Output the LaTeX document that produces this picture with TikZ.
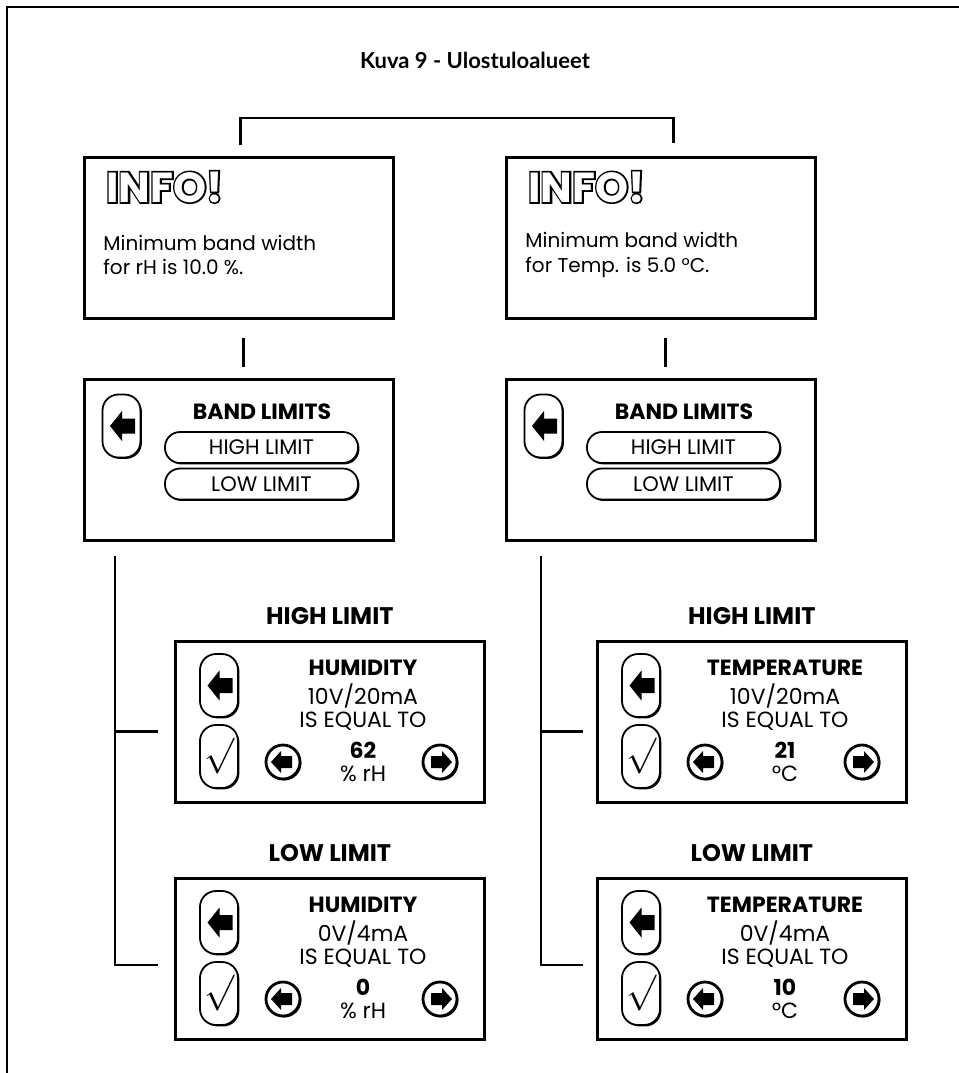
\documentclass[tikz,border=0pt]{standalone}
\usepackage{fontspec}
\setmainfont{Poppins}
\newfontfamily\captionfont{Lato}
\usepackage{tikz}
\usetikzlibrary{calc,shadows}
\tikzset{
  frameLine/.style={line width=1.4pt},
  linkLine/.style={line width=1.25pt},
  panelBox/.style={draw, line width=1.35pt, minimum width=154.5pt,
                   minimum height=80.5pt, inner sep=0pt},
  keyShadow/.style={drop shadow={shadow xshift=0.7pt, shadow yshift=-0.7pt,
                    opacity=1, fill=black}},
  softKey/.style={draw, line width=0.9pt, fill=white, rounded corners=8pt,
                  minimum width=19pt, minimum height=31.5pt, inner sep=0pt,
                  keyShadow},
  roundKey/.style={draw, circle, line width=1.4pt, fill=white,
                   minimum size=17pt, inner sep=0pt, keyShadow},
  pillKey/.style={draw, line width=0.9pt, fill=white, rounded corners=7.5pt,
                  minimum width=96.5pt, minimum height=15.5pt, inner sep=0pt,
                  keyShadow, font=\fontsize{10.5}{12}\selectfont},
  headText/.style={inner sep=0pt, font=\bfseries\fontsize{11}{13}\selectfont},
  bodyText/.style={inner sep=0pt, font=\fontsize{11}{13}\selectfont},
  labelText/.style={inner sep=0pt, font=\bfseries\fontsize{12}{14}\selectfont},
  infoText/.style={inner sep=0pt, align=left, font=\fontsize{10}{12.3}\selectfont},
  backArrow/.pic={\fill (-11.5,0) -- (0.5,15) -- (0.5,7.5) -- (13.5,7.5)
                  -- (13.5,-7.5) -- (0.5,-7.5) -- (0.5,-15) -- cycle;},
  roundArrow/.pic={\fill (-12,0) -- (-2,11) -- (-2,6) -- (9,6)
                   -- (9,-6) -- (-2,-6) -- (-2,-11) -- cycle;}
}
\newcommand{\infoMark}{{\fontsize{21}{21}\selectfont\bfseries
  \rlap{\addfontfeature{FakeBold=8}INFO!}{\color{white}INFO!}}}
\newcommand{\okMark}{\scalebox{1.8}{$\surd$}}
% name, x, y, label, quantity, signal, value, unit
\newcommand{\limitPanel}[8]{
  \node[panelBox, anchor=north west] (#1) at (#2,#3) {};
  \node[labelText] (#1label) at ($(#1.north)+(0,24)$) {#4};
  \node[softKey] (#1back) at ($(#1.north west)+(45,-45.5)$) {};
  \pic at (#1back) {backArrow};
  \node[softKey] (#1ok) at ($(#1.north west)+(45,-116.5)$) {\okMark};
  \node[headText] (#1qty) at ($(#1.north west)+(189,-28)$) {#5};
  \node[bodyText] (#1sig) at ($(#1.north west)+(189,-56)$) {#6};
  \node[bodyText] (#1eq) at ($(#1.north west)+(189,-81)$) {IS EQUAL TO};
  \node[headText] (#1val) at ($(#1.north west)+(189,-110)$) {#7};
  \node[bodyText] (#1unit) at ($(#1.north west)+(189,-134)$) {#8};
  \node[roundKey] (#1dn) at ($(#1.north west)+(109,-122)$) {};
  \node[roundKey] (#1up) at ($(#1.north west)+(266,-122)$) {};
  \pic at (#1dn) {roundArrow};
  \pic[xscale=-1] at (#1up) {roundArrow};
}

\begin{document}
\begin{tikzpicture}[x=0.5pt,y=0.5pt]
  \useasboundingbox (0,0) rectangle (959,-1073);
  \draw[frameLine] (959,-7) -- (7,-7) -- (7,-1073);

  \node[font=\captionfont\bfseries\fontsize{11}{13}\selectfont] (title)
        at (475,-60) {Kuva 9 - Ulostuloalueet};

  % info screens
  \node[panelBox, anchor=north west] (infoL) at (83,-156) {};
  \node[panelBox, anchor=north west] (infoR) at (505,-156) {};
  \node[inner sep=0pt, anchor=west] (infoLmark) at ($(infoL.north west)+(23,-31)$) {\infoMark};
  \node[inner sep=0pt, anchor=west] (infoRmark) at ($(infoR.north west)+(23,-31)$) {\infoMark};
  \node[infoText, anchor=west] (infoLtext) at ($(infoL.north west)+(20,-99)$)
        {Minimum band width\\for rH is 10.0 \%.};
  \node[infoText, anchor=west] (infoRtext) at ($(infoR.north west)+(20,-99)$)
        {Minimum band width\\for Temp. is 5.0 °C.};

  % band limit screens
  \node[panelBox, anchor=north west] (bandL) at (83,-378) {};
  \node[softKey] (bandLback) at ($(bandL.north west)+(38.5,-48)$) {};
  \pic at (bandLback) {backArrow};
  \node[headText] (bandLtitle) at ($(bandL.north west)+(179,-34)$) {BAND LIMITS};
  \node[pillKey] (bandLhigh) at ($(bandL.north west)+(178.5,-69.5)$) {HIGH LIMIT};
  \node[pillKey] (bandLlow) at ($(bandL.north west)+(178.5,-106)$) {LOW LIMIT};

  \node[panelBox, anchor=north west] (bandR) at (505,-378) {};
  \node[softKey] (bandRback) at ($(bandR.north west)+(38.5,-48)$) {};
  \pic at (bandRback) {backArrow};
  \node[headText] (bandRtitle) at ($(bandR.north west)+(179,-34)$) {BAND LIMITS};
  \node[pillKey] (bandRhigh) at ($(bandR.north west)+(178.5,-69.5)$) {HIGH LIMIT};
  \node[pillKey] (bandRlow) at ($(bandR.north west)+(178.5,-106)$) {LOW LIMIT};

  % limit screens
  \limitPanel{hiRH}{174}{-640}{HIGH LIMIT}{HUMIDITY}{10V/20mA}{62}{\% rH}
  \limitPanel{loRH}{174}{-877}{LOW LIMIT}{HUMIDITY}{0V/4mA}{0}{\% rH}
  \limitPanel{hiT}{596}{-640}{HIGH LIMIT}{TEMPERATURE}{10V/20mA}{21}{°C}
  \limitPanel{loT}{596}{-877}{LOW LIMIT}{TEMPERATURE}{0V/4mA}{10}{°C}

  % connectors
  \draw[linkLine] ($(infoL.north)+(1.5,11)$) -- ++(0,27) -| ($(infoR.north)+(12.5,13)$);
  \draw[linkLine] ($(infoL.south)+(4.5,-18)$) -- ($(bandL.north)+(4.5,11)$);
  \draw[linkLine] ($(infoR.south)+(4.5,-18)$) -- ($(bandR.north)+(4.5,11)$);
  \draw[linkLine] ($(bandL.south west)+(32,-14)$) |- ($(loRH.west)+(-16,-6)$);
  \draw[linkLine] ($(hiRH.west)+(-59,-9.5)$) -- ($(hiRH.west)+(-16,-9.5)$);
  \draw[linkLine] ($(bandR.south west)+(36,-14)$) |- ($(loT.west)+(-13,-6)$);
  \draw[linkLine] ($(hiT.west)+(-55,-9.5)$) -- ($(hiT.west)+(-13,-9.5)$);
\end{tikzpicture}
\end{document}
